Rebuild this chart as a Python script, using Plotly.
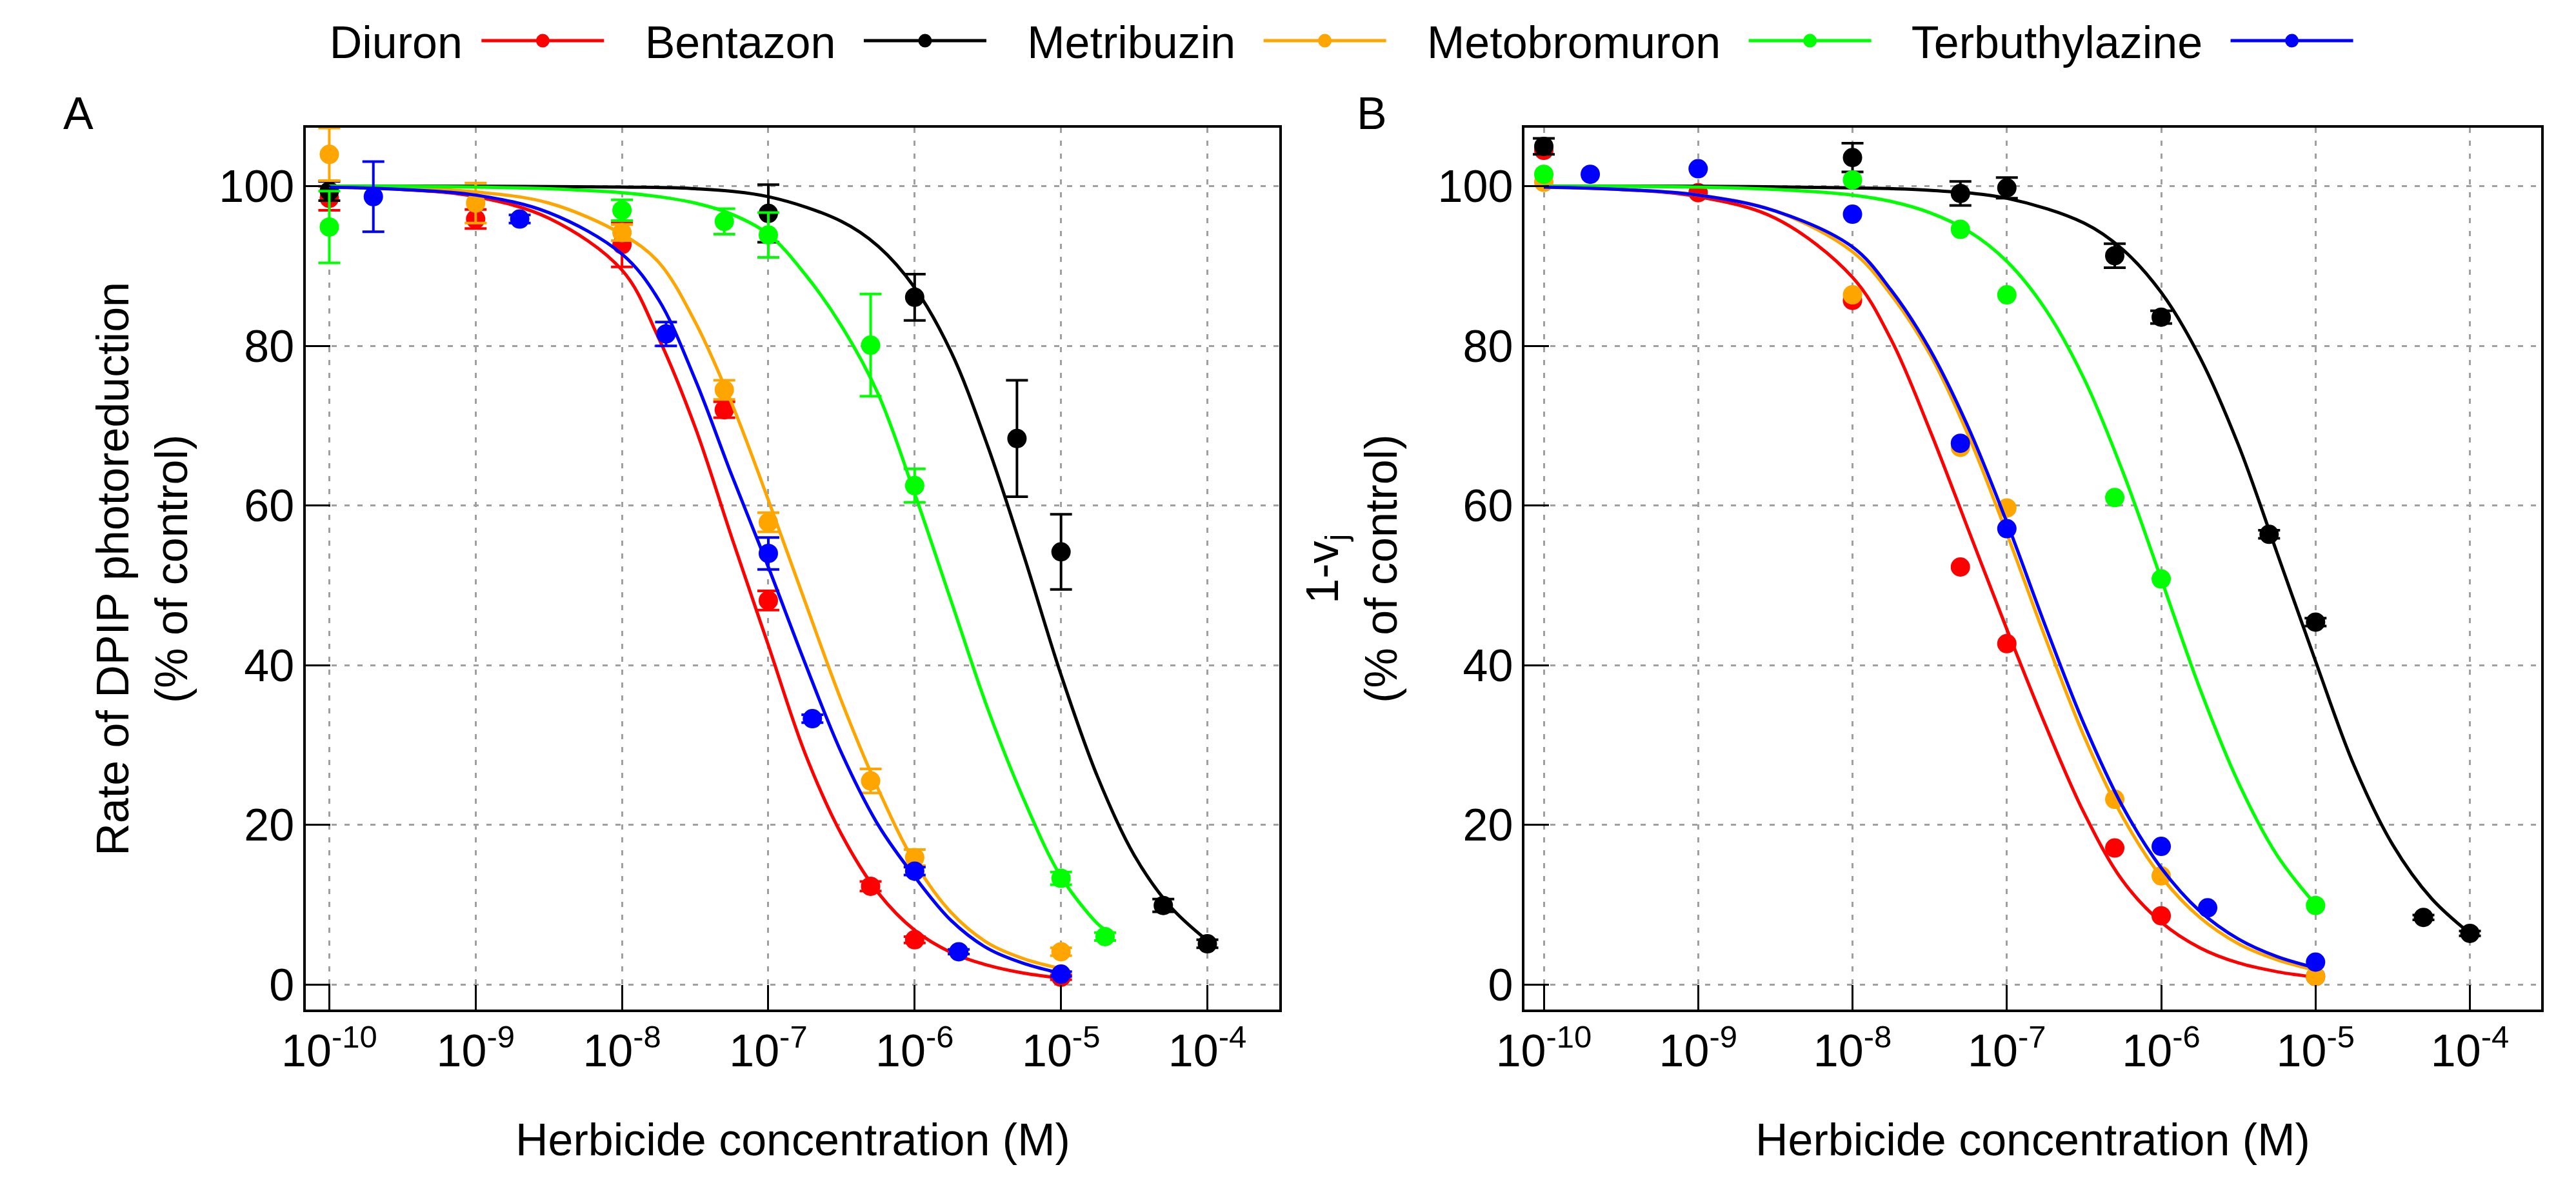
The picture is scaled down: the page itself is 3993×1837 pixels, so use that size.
import plotly.graph_objects as go

# Herbicides in the order of the gnuplot key, with their colours
herbicides = ['Diuron', 'Bentazon', 'Metribuzin', 'Metobromuron', 'Terbuthylazine']
colors = ['#ff0000', '#000000', '#ffa500', '#00ff00', '#0000ff']

# Axis ticks
x_tick_vals = [1e-10, 1e-9, 1e-8, 1e-7, 1e-6, 1e-5, 1e-4]
x_tick_text = ['10<sup>-10</sup>', '10<sup>-9</sup>', '10<sup>-8</sup>', '10<sup>-7</sup>',
               '10<sup>-6</sup>', '10<sup>-5</sup>', '10<sup>-4</sup>']
y_tick_vals = [0, 20, 40, 60, 80, 100]

# ---- Panel A: DPIP photoreduction, measured points (M, % of control, error) ----
a_diuron_conc = [1e-10, 1e-9, 1e-8, 5e-8, 1e-7, 5e-7, 1e-6, 1e-5]
a_diuron_rate = [98.5, 95.9, 92.7, 72.0, 48.1, 12.3, 5.6, 0.9]
a_diuron_err = [1.5, 1.2, 2.8, 1.0, 1.2, 0.6, 0.4, 0.3]

a_bentazon_conc = [1e-10, 1e-7, 1e-6, 5e-6, 1e-5, 5e-5, 1e-4]
a_bentazon_rate = [99.4, 96.6, 86.1, 68.4, 54.2, 9.9, 5.1]
a_bentazon_err = [1.2, 3.6, 2.9, 7.3, 4.7, 0.8, 0.5]

a_metribuzin_conc = [1e-10, 1e-9, 1e-8, 5e-8, 1e-7, 5e-7, 1e-6, 1e-5]
a_metribuzin_rate = [104.0, 97.9, 94.2, 74.5, 57.9, 25.5, 15.9, 4.1]
a_metribuzin_err = [3.3, 2.5, 1.0, 1.2, 1.2, 1.5, 1.0, 0.5]

a_metobromuron_conc = [1e-10, 1e-8, 5e-8, 1e-7, 5e-7, 1e-6, 1e-5, 2e-5]
a_metobromuron_rate = [94.9, 97.0, 95.6, 93.9, 80.1, 62.5, 13.3, 6.0]
a_metobromuron_err = [4.5, 1.3, 1.6, 2.8, 6.4, 2.1, 0.8, 0.5]

a_terbuthylazine_conc = [2e-10, 2e-9, 2e-8, 1e-7, 2e-7, 1e-6, 2e-6, 1e-5]
a_terbuthylazine_rate = [98.7, 95.9, 81.5, 54.0, 33.3, 14.2, 4.1, 1.3]
a_terbuthylazine_err = [4.4, 0.5, 1.5, 2.0, 0.5, 0.5, 0.3, 0.3]

# ---- Panel B: 1-vj, measured points (only Bentazon carries error bars) ----
b_diuron_conc = [1e-10, 1e-9, 1e-8, 5e-8, 1e-7, 5e-7, 1e-6, 1e-5]
b_diuron_val = [104.5, 99.2, 85.7, 52.3, 42.7, 17.1, 8.6, 1.0]

b_bentazon_conc = [1e-10, 1e-8, 5e-8, 1e-7, 5e-7, 1e-6, 5e-6, 1e-5, 5e-5, 1e-4]
b_bentazon_val = [105.0, 103.6, 99.1, 99.8, 91.3, 83.6, 56.4, 45.4, 8.4, 6.4]
b_bentazon_err = [1.0, 1.8, 1.5, 1.3, 1.5, 0.8, 0.5, 0.5, 0.3, 0.3]

b_metribuzin_conc = [1e-10, 1e-8, 5e-8, 1e-7, 5e-7, 1e-6, 1e-5]
b_metribuzin_val = [100.5, 86.4, 67.3, 59.7, 23.2, 13.6, 1.0]

b_metobromuron_conc = [1e-10, 1e-8, 5e-8, 1e-7, 5e-7, 1e-6, 1e-5]
b_metobromuron_val = [101.5, 100.8, 94.6, 86.4, 61.0, 50.8, 9.9]

b_terbuthylazine_conc = [2e-10, 1e-9, 1e-8, 5e-8, 1e-7, 1e-6, 2e-6, 1e-5]
b_terbuthylazine_val = [101.5, 102.2, 96.5, 67.8, 57.1, 17.3, 9.6, 2.8]

# ---- Fitted curves at these log10 concentrations ----
fit_exp = [-10, -9.5, -9, -8.5, -8, -7.75, -7.5, -7.25, -7, -6.75, -6.5, -6.25,
           -6, -5.75, -5.5, -5.25, -5]
fit_exp_green_a = fit_exp + [-4.75, -4.7]
fit_exp_long = [-10, -9, -8, -7.5, -7, -6.5, -6.25, -6, -5.75, -5.5, -5.25, -5,
                -4.75, -4.5, -4.25, -4]

a_diuron_fit = [99.9, 99.6, 98.7, 96.0, 89.5, 81.0, 69.8, 56.0, 42.5, 29.0, 18.8,
                11.5, 6.8, 4.0, 2.4, 1.4, 0.8]
a_bentazon_fit = [100.0, 100.0, 99.9, 99.7, 98.7, 95.6, 92.5, 87.3, 79.2, 67.4, 53.5,
                  38.8, 26.0, 16.2, 9.7, 5.5]
a_metribuzin_fit = [100.0, 99.8, 99.3, 97.9, 94.0, 90.5, 83.0, 72.8, 60.7, 48.0, 35.5,
                    24.5, 15.3, 9.0, 5.2, 3.2, 2.0]
a_metobromuron_fit = [100.0, 100.0, 99.9, 99.7, 99.2, 98.7, 97.9, 96.5, 94.0, 89.0, 82.5,
                      74.0, 61.5, 48.0, 34.5, 23.0, 13.5, 7.6, 6.9]
a_terbuthylazine_fit = [99.9, 99.6, 98.9, 96.7, 91.5, 85.8, 75.8, 63.8, 52.3, 40.3, 29.0,
                        20.0, 13.5, 8.0, 4.5, 2.6, 1.4]

b_diuron_fit = [99.9, 99.6, 98.7, 96.0, 88.6, 80.8, 69.5, 57.0, 44.5, 32.5, 21.5,
                13.0, 7.8, 4.6, 2.7, 1.6, 0.9]
b_bentazon_fit = [100.0, 100.0, 99.8, 99.5, 98.5, 95.4, 92.1, 86.7, 78.6, 67.6, 54.1,
                  40.5, 27.4, 17.5, 10.8, 6.4]
b_metribuzin_fit = [99.9, 99.6, 98.9, 96.9, 91.8, 86.4, 79.0, 68.8, 56.5, 43.4, 31.1,
                    21.0, 13.5, 8.4, 5.1, 3.1, 1.8]
b_metobromuron_fit = [100.0, 100.0, 99.9, 99.6, 98.9, 98.1, 96.7, 94.4, 90.6, 84.6, 75.9,
                      64.3, 50.8, 37.1, 25.3, 16.2, 10.0]
b_terbuthylazine_fit = [99.9, 99.6, 98.9, 96.9, 92.4, 87.0, 79.6, 69.8, 57.9, 44.9, 32.6,
                        22.3, 14.6, 9.2, 5.7, 3.5, 2.1]

FONT = 'Liberation Sans, Arial, sans-serif'


def add_series(fig, name, color, conc, vals, err, exps, fit, xaxis, yaxis):
    # fitted dose-response curve
    fig.add_trace(go.Scatter(
        x=[10 ** e for e in exps], y=fit, mode='lines', name=name,
        line=dict(color=color, width=5, shape='spline', smoothing=1.0),
        xaxis=xaxis, yaxis=yaxis, showlegend=False, hoverinfo='skip'))
    # measured points
    error_y = None
    if err is not None:
        error_y = dict(type='data', array=err, visible=True, color=color,
                       thickness=4, width=17)
    fig.add_trace(go.Scatter(
        x=conc, y=vals, mode='markers', name=name,
        marker=dict(color=color, size=30),
        error_y=error_y, xaxis=xaxis, yaxis=yaxis, showlegend=False))


fig = go.Figure()

panel_a = [
    (a_diuron_conc, a_diuron_rate, a_diuron_err, fit_exp, a_diuron_fit),
    (a_bentazon_conc, a_bentazon_rate, a_bentazon_err, fit_exp_long, a_bentazon_fit),
    (a_metribuzin_conc, a_metribuzin_rate, a_metribuzin_err, fit_exp, a_metribuzin_fit),
    (a_metobromuron_conc, a_metobromuron_rate, a_metobromuron_err, fit_exp_green_a, a_metobromuron_fit),
    (a_terbuthylazine_conc, a_terbuthylazine_rate, a_terbuthylazine_err, fit_exp, a_terbuthylazine_fit),
]
panel_b = [
    (b_diuron_conc, b_diuron_val, None, fit_exp, b_diuron_fit),
    (b_bentazon_conc, b_bentazon_val, b_bentazon_err, fit_exp_long, b_bentazon_fit),
    (b_metribuzin_conc, b_metribuzin_val, None, fit_exp, b_metribuzin_fit),
    (b_metobromuron_conc, b_metobromuron_val, None, fit_exp, b_metobromuron_fit),
    (b_terbuthylazine_conc, b_terbuthylazine_val, None, fit_exp, b_terbuthylazine_fit),
]

for (name, color, a, b) in zip(herbicides, colors, panel_a, panel_b):
    add_series(fig, name, color, *a, 'x', 'y')
    add_series(fig, name, color, *b, 'x2', 'y2')

# The gnuplot key prints each label before its sample: a first entry without a
# symbol carries "Diuron", then every sample is followed by the next label.
fig.add_trace(go.Scatter(x=[None], y=[None], mode='none', name=herbicides[0] + ' ',
                         showlegend=True, hoverinfo='skip'))
key_labels = herbicides[1:] + ['']
for color, label in zip(colors, key_labels):
    fig.add_trace(go.Scatter(
        x=[None], y=[None], mode='lines+markers', name='   ' + label + ' \u2009',
        line=dict(color=color, width=5),
        marker=dict(color=color, size=16, line=dict(color=color, width=5)),
        showlegend=True, hoverinfo='skip'))

axis_style = dict(
    showline=True, linecolor='black', linewidth=4, mirror=True,
    ticks='inside', ticklen=38, tickwidth=3, tickcolor='black',
    showgrid=True, gridcolor='#a0a0a0', gridwidth=3, griddash='8px,12px',
    zeroline=False, tickfont=dict(family=FONT, size=70, color='black'),
)

fig.update_layout(
    width=3993, height=1837,
    margin=dict(l=0, r=0, t=0, b=0),
    paper_bgcolor='white', plot_bgcolor='white',
    font=dict(family=FONT, size=70, color='black'),
    xaxis=dict(domain=[0.1069, 0.4889], type='log', range=[-10.16, -3.51],
               tickvals=x_tick_vals, ticktext=x_tick_text, anchor='y', **axis_style),
    yaxis=dict(domain=[0.1519, 0.8966], range=[-3.15, 107.35],
               tickvals=y_tick_vals, anchor='x', **axis_style),
    xaxis2=dict(domain=[0.5853, 0.9842], type='log', range=[-10.124, -3.54],
                tickvals=x_tick_vals, ticktext=x_tick_text, anchor='y2', **axis_style),
    yaxis2=dict(domain=[0.1519, 0.8966], range=[-3.15, 107.35],
                tickvals=y_tick_vals, anchor='x2', **axis_style),
    legend=dict(
        orientation='h', x=0.0655, xanchor='left', y=0.970, yanchor='middle',
        font=dict(family=FONT, size=70, color='black'), itemwidth=190,
        bgcolor='rgba(0,0,0,0)', traceorder='normal',
    ),
    showlegend=True,
)

annotations = [
    dict(text='A', x=0.0175, y=0.9085),
    dict(text='B', x=0.5254, y=0.9085),
    dict(text='Rate of DPIP photoreduction<br>(% of control)', x=0.0426, y=0.5242, textangle=-90),
    dict(text='1-v<sub>j</sub><br>(% of control)', x=0.5174, y=0.5242, textangle=-90),
    dict(text='Herbicide concentration (M)', x=0.298, y=0.0419),
    dict(text='Herbicide concentration (M)', x=0.7848, y=0.0419),
]
for ann in annotations:
    fig.add_annotation(xref='paper', yref='paper', showarrow=False,
                       xanchor='center', yanchor='middle',
                       font=dict(family=FONT, size=70, color='black'), **ann)

fig.write_html("out.html")
